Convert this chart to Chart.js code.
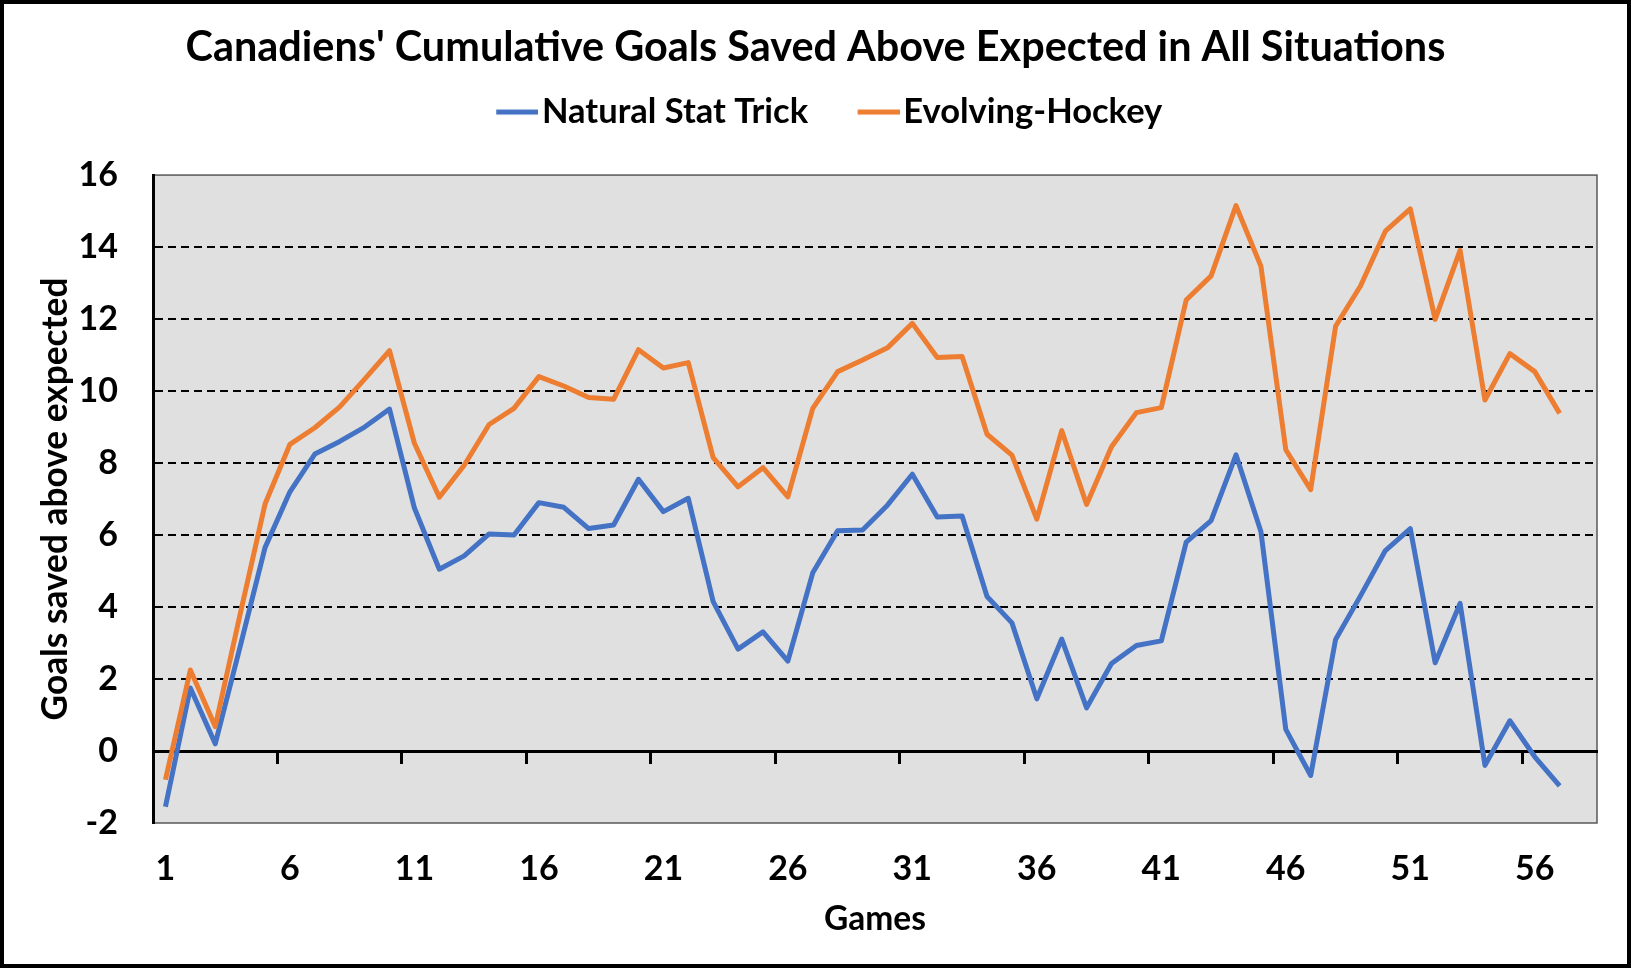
<!DOCTYPE html>
<html>
<head>
<meta charset="utf-8">
<title>Canadiens' Cumulative Goals Saved Above Expected</title>
<script src="https://cdn.jsdelivr.net/npm/chart.js@4.4.1/dist/chart.umd.min.js"></script>
<style>
  html, body { margin: 0; padding: 0; background: #fff; }
</style>
</head>
<body>
<canvas id="chart" width="1631" height="968"></canvas>
<script>
// games on the x axis (58 slots, the last one has no data yet)
const games = [1, 2, 3, 4, 5, 6, 7, 8, 9, 10, 11, 12, 13, 14, 15, 16, 17, 18, 19, 20,
    21, 22, 23, 24, 25, 26, 27, 28, 29, 30, 31, 32, 33, 34, 35, 36, 37, 38, 39, 40,
    41, 42, 43, 44, 45, 46, 47, 48, 49, 50, 51, 52, 53, 54, 55, 56, 57, 58];

const naturalStatTrick = [-1.55, 1.75, 0.2, 2.9, 5.65, 7.2, 8.25, 8.6, 9.0, 9.5,
    6.75, 5.05, 5.42, 6.03, 6.0, 6.9, 6.77, 6.18, 6.28, 7.55,
    6.65, 7.02, 4.15, 2.83, 3.31, 2.5, 4.95, 6.12, 6.14, 6.83,
    7.69, 6.5, 6.53, 4.29, 3.56, 1.45, 3.11, 1.2, 2.43, 2.93,
    3.06, 5.8, 6.4, 8.23, 6.1, 0.6, -0.68, 3.1, 4.31, 5.57,
    6.18, 2.45, 4.1, -0.4, 0.84, -0.16, -0.97];

const evolvingHockey = [-0.8, 2.25, 0.68, 3.8, 6.86, 8.52, 8.98, 9.56, 10.33, 11.12,
    8.55, 7.05, 7.94, 9.07, 9.52, 10.4, 10.14, 9.82, 9.77, 11.15,
    10.64, 10.79, 8.15, 7.34, 7.87, 7.06, 9.52, 10.54, 10.86, 11.2,
    11.88, 10.93, 10.96, 8.8, 8.22, 6.44, 8.9, 6.85, 8.45, 9.4,
    9.54, 12.53, 13.2, 15.15, 13.47, 8.37, 7.26, 11.8, 12.92, 14.44,
    15.06, 11.99, 13.91, 9.75, 11.04, 10.54, 9.38];

const seriesNames = ['Natural Stat Trick', 'Evolving-Hockey'];
const seriesColors = ['#4472C4', '#ED7D31'];

const yMin = -2;
const yMax = 16;
const yStep = 2;

Chart.defaults.font.family = 'Lato';
Chart.defaults.font.weight = 'bold';
Chart.defaults.color = '#000';

// short line with a small gap before the text, used as legend marker
function legendLine(color) {
    const c = document.createElement('canvas');
    c.width = 83;
    c.height = 8;
    const g = c.getContext('2d');
    g.strokeStyle = color;
    g.lineWidth = 5;
    g.beginPath();
    g.moveTo(41, 4);
    g.lineTo(83, 4);
    g.stroke();
    return c;
}

// grey plot area with thin frame, black border round the whole picture
const plotFrame = {
    id: 'plotFrame',
    beforeDraw(chart) {
        const { ctx, chartArea: a } = chart;
        ctx.save();
        ctx.fillStyle = '#e0e0e0';
        ctx.fillRect(a.left, a.top, a.width, a.height);
        ctx.strokeStyle = '#595959';
        ctx.lineWidth = 1.5;
        ctx.strokeRect(a.left, a.top, a.width, a.height);
        ctx.restore();
    },
    afterDraw(chart) {
        const { ctx, width, height } = chart;
        ctx.save();
        ctx.strokeStyle = '#000';
        ctx.lineWidth = 4;
        ctx.strokeRect(2, 2, width - 4, height - 4);
        ctx.restore();
    }
};

const ctx = document.getElementById('chart').getContext('2d');
new Chart(ctx, {
    type: 'line',
    data: {
        labels: games,
        datasets: [{
            label: seriesNames[0],
            data: naturalStatTrick,
            borderColor: seriesColors[0],
            backgroundColor: seriesColors[0],
            borderWidth: 5,
            borderJoinStyle: 'round',
            pointRadius: 0,
            pointStyle: legendLine(seriesColors[0]),
            tension: 0,
            order: 1
        }, {
            label: seriesNames[1],
            data: evolvingHockey,
            borderColor: seriesColors[1],
            backgroundColor: seriesColors[1],
            borderWidth: 5,
            borderJoinStyle: 'round',
            pointRadius: 0,
            pointStyle: legendLine(seriesColors[1]),
            tension: 0,
            order: 0
        }]
    },
    options: {
        responsive: false,
        animation: false,
        layout: {
            padding: { left: 34, right: 34, top: 0, bottom: 10 }
        },
        plugins: {
            title: {
                display: true,
                text: "Canadiens' Cumulative Goals Saved Above Expected in All Situations",
                font: { size: 41.4, lineHeight: 1.2 },
                color: '#000',
                padding: { top: 23.2, bottom: 0 }
            },
            legend: {
                display: true,
                position: 'top',
                labels: {
                    usePointStyle: true,
                    pointStyleWidth: 56,
                    padding: 21.9,
                    color: '#000',
                    font: { size: 34.5 },
                    sort: (a, b) => a.datasetIndex - b.datasetIndex
                }
            },
            // empty subtitle below the legend, only keeps space above the plot
            subtitle: {
                display: true,
                text: '',
                weight: 500,
                font: { size: 10, lineHeight: 1 },
                padding: { top: 25.8, bottom: 0 }
            },
            tooltip: { enabled: false }
        },
        scales: {
            x: {
                type: 'category',
                offset: true,
                afterFit: scale => { scale.height = 135; },
                grid: { display: false, drawTicks: false },
                border: { display: false },
                ticks: {
                    autoSkip: false,
                    maxRotation: 0,
                    padding: 25.6,
                    font: { size: 34 },
                    color: '#000',
                    callback: (value, index) => (index % 5 === 0 ? games[index] : '')
                },
                title: {
                    display: true,
                    text: 'Games',
                    font: { size: 33.5 },
                    color: '#000',
                    padding: { top: 0, bottom: 18.9 }
                }
            },
            // axis line at zero with the tick marks every five games
            x2: {
                type: 'category',
                position: { y: 0 },
                offset: true,
                ticks: { display: false },
                grid: {
                    display: true,
                    offset: true,
                    drawOnChartArea: false,
                    drawTicks: true,
                    tickLength: 11,
                    tickWidth: 3,
                    tickColor: c => (c.index > 0 && c.index % 5 === 0 ? '#000' : 'rgba(0,0,0,0)')
                },
                border: { display: true, color: '#000', width: 3 }
            },
            y: {
                min: yMin,
                max: yMax,
                afterFit: scale => { scale.width = 119; },
                ticks: {
                    stepSize: yStep,
                    padding: 35,
                    font: { size: 34 },
                    color: '#000'
                },
                grid: {
                    drawTicks: false,
                    lineWidth: 2,
                    color: c => (c.tick && (c.tick.value === 0 || c.tick.value === yMin || c.tick.value === yMax)
                        ? 'rgba(0,0,0,0)' : '#000')
                },
                border: { display: true, color: '#000', width: 3, dash: [8, 5] },
                title: {
                    display: true,
                    text: 'Goals saved above expected',
                    font: { size: 35.3 },
                    color: '#000',
                    padding: { top: 0.8, bottom: 0 }
                }
            }
        }
    },
    plugins: [plotFrame]
});
</script>
</body>
</html>
